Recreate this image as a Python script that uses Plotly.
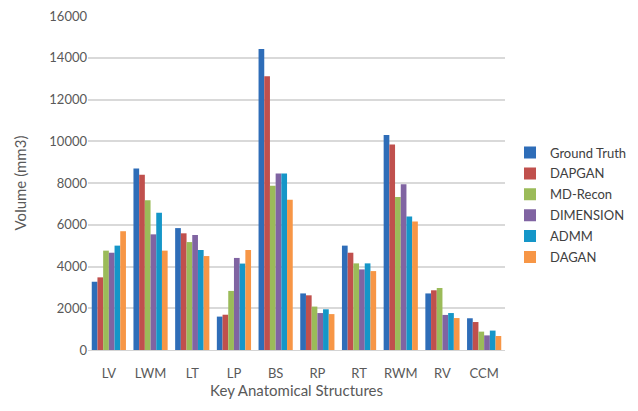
import plotly.graph_objects as go

categories = ["LV", "LWM", "LT", "LP", "BS", "RP", "RT", "RWM", "RV", "CCM"]
ground_truth = [3270, 8690, 5840, 1600, 14420, 2710, 5000, 10300, 2710, 1520]
dapgan = [3480, 8400, 5590, 1690, 13110, 2620, 4660, 9840, 2860, 1340]
md_recon = [4760, 7170, 5170, 2830, 7870, 2080, 4150, 7330, 2970, 880]
dimension = [4660, 5540, 5510, 4410, 8450, 1770, 3860, 7940, 1680, 700]
admm = [5000, 6580, 4790, 4140, 8450, 1950, 4150, 6400, 1770, 930]
dagan = [5690, 4760, 4500, 4790, 7200, 1720, 3780, 6150, 1530, 670]
y_ticks = [0, 2000, 4000, 6000, 8000, 10000, 12000, 14000, 16000]

series = [
    ("Ground Truth", ground_truth, "#2E6DB8"),
    ("DAPGAN", dapgan, "#C0504D"),
    ("MD-Recon", md_recon, "#9BBB59"),
    ("DIMENSION", dimension, "#8064A2"),
    ("ADMM", admm, "#1596C8"),
    ("DAGAN", dagan, "#F79646"),
]

fig = go.Figure()
for name, vals, color in series:
    fig.add_trace(go.Bar(x=categories, y=vals, name=name, legendgroup=name,
                         marker=dict(color=color, line=dict(width=0))))

font = "Lato, 'Open Sans', sans-serif"
fig.update_layout(
    width=638, height=411,
    margin=dict(l=88, r=133, t=16, b=61, autoexpand=False),
    paper_bgcolor="white", plot_bgcolor="white",
    barmode="group", bargap=0.18, bargroupgap=0,
    font=dict(family=font, size=13, color="#595959"),
    showlegend=True,
    legend=dict(x=1.012, xanchor="left", y=0.434, yanchor="middle",
                font=dict(size=13, color="#404040"),
                traceorder="grouped", tracegroupgap=1, itemwidth=30),
    xaxis=dict(
        showgrid=False, showline=True, linecolor="#D4D4D4", linewidth=1,
        ticks="outside", ticklen=11, tickcolor="rgba(0,0,0,0)",
        tickfont=dict(size=13, color="#595959"),
        title=dict(text="Key Anatomical Structures", font=dict(size=15, color="#595959"), standoff=1),
    ),
    yaxis=dict(
        range=[0, 16000], tickvals=y_ticks, ticktext=[str(v) for v in y_ticks],
        showgrid=True, gridcolor="#D9D9D9", gridwidth=1.5,
        zeroline=False, showline=False, ticks="",
        tickfont=dict(size=13, color="#595959"),
        title=dict(text="Volume (mm3)", font=dict(size=15, color="#595959"), standoff=19),
    ),
)

fig.write_html("out.html", config={"displayModeBar": False},
               post_script="document.body.style.margin='0';document.body.style.overflow='hidden';")
